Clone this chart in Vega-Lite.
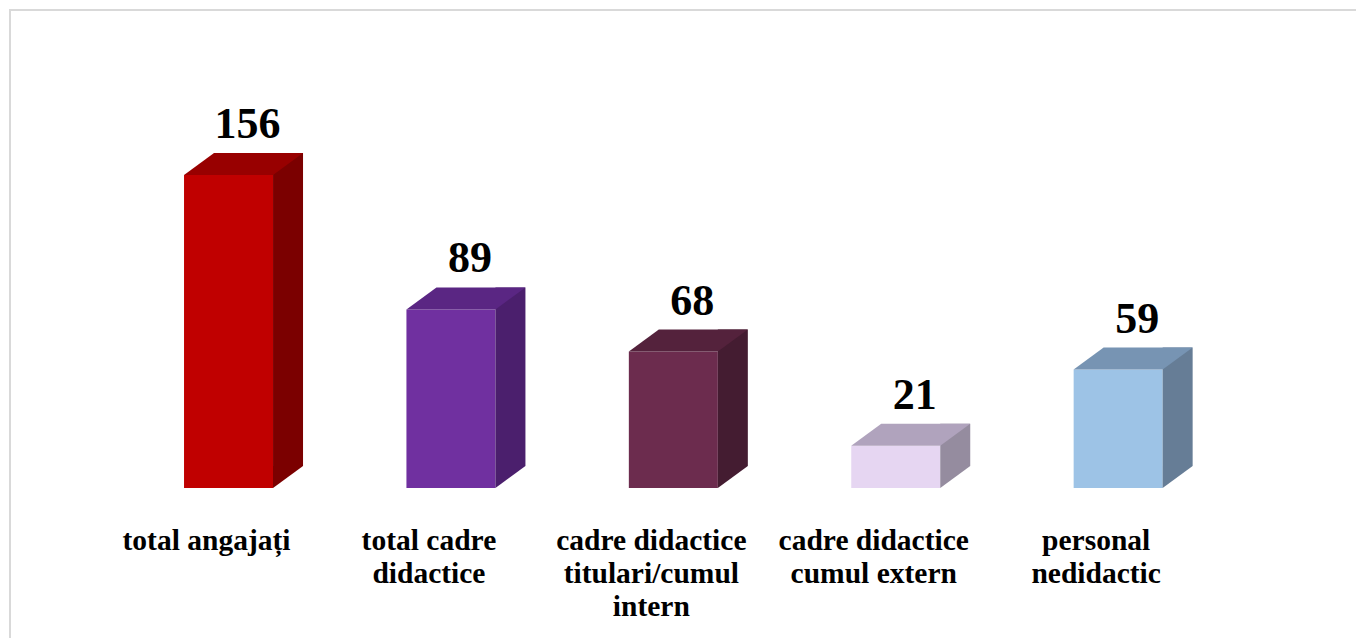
{
  "$schema": "https://vega.github.io/schema/vega-lite/v6.json",
  "autosize": {"type": "none"},
  "padding": {"left": 10, "top": 10, "right": -4, "bottom": -4},
  "width": 1350,
  "height": 632,
  "background": "white",
  "config": {"view": {"stroke": "#D9D9D9", "strokeWidth": 2}},
  "data": {"values": [
    {"categorie": "total angajați", "eticheta": "total angajați", "valoare": 156},
    {"categorie": "total cadre didactice", "eticheta": "total cadre\ndidactice", "valoare": 89},
    {"categorie": "cadre didactice titulari/cumul intern", "eticheta": "cadre didactice\ntitulari/cumul\nintern", "valoare": 68},
    {"categorie": "cadre didactice cumul extern", "eticheta": "cadre didactice\ncumul extern", "valoare": 21},
    {"categorie": "personal nedidactic", "eticheta": "personal\nnedidactic", "valoare": 59}
  ]},
  "encoding": {
    "x": {"field": "categorie", "type": "nominal", "sort": null,
          "scale": {"paddingInner": 0, "paddingOuter": 0.535, "align": 0.451},
          "axis": null}
  },
  "resolve": {"scale": {"color": "independent"}},
  "layer": [
    {
      "mark": {"type": "bar", "width": 89, "cornerRadius": 0},
      "encoding": {
        "y": {"field": "valoare", "type": "quantitative", "scale": {"domain": [-76.75, 238.2], "nice": false, "zero": false}, "axis": null},
        "y2": {"datum": 0},
        "color": {"field": "categorie", "type": "nominal", "sort": null, "legend": null,
                  "scale": {"range": ["#C00000", "#7030A0", "#6C2C4E", "#E6D6F2", "#9DC3E6"]}}
      }
    },
    {
      "mark": {"type": "bar", "width": 30, "xOffset": 59.5, "yOffset": -22, "y2Offset": -22, "cornerRadius": 0},
      "encoding": {
        "y": {"field": "valoare", "type": "quantitative"},
        "y2": {"datum": 0},
        "color": {"field": "categorie", "type": "nominal", "sort": null, "legend": null,
                  "scale": {"range": ["#7B0000", "#4B1F6D", "#441C31", "#958C9F", "#667D96"]}}
      }
    },
    {
      "mark": {"type": "point", "shape": "M44.5,0L44.5,-22L74.5,-22Z", "size": 4, "filled": true, "opacity": 1, "strokeWidth": 0},
      "encoding": {
        "y": {"datum": 0},
        "color": {"field": "categorie", "type": "nominal", "sort": null, "legend": null,
                  "scale": {"range": ["#7B0000", "#4B1F6D", "#441C31", "#958C9F", "#667D96"]}}
      }
    },
    {
      "mark": {"type": "point", "shape": "M-44.5,0L44.5,0L74.5,-22L-14.5,-22Z", "size": 4, "filled": true, "opacity": 1, "strokeWidth": 0},
      "encoding": {
        "y": {"field": "valoare", "type": "quantitative"},
        "color": {"field": "categorie", "type": "nominal", "sort": null, "legend": null,
                  "scale": {"range": ["#980000", "#5A2683", "#54223C", "#B0A3BD", "#7794B3"]}}
      }
    },
    {
      "mark": {"type": "text", "font": "Liberation Serif", "fontWeight": "bold", "fontSize": 44, "color": "black", "align": "center", "baseline": "alphabetic", "xOffset": 19, "yOffset": -37},
      "encoding": {
        "y": {"field": "valoare", "type": "quantitative"},
        "text": {"field": "valoare", "type": "quantitative"}
      }
    },
    {
      "mark": {"type": "text", "font": "Liberation Serif", "fontWeight": "bold", "fontSize": 29.5, "color": "black", "align": "center", "baseline": "alphabetic", "lineBreak": "\n", "lineHeight": 33, "xOffset": -22, "yOffset": 62},
      "encoding": {
        "y": {"datum": 0},
        "text": {"field": "eticheta", "type": "nominal"}
      }
    }
  ]
}
